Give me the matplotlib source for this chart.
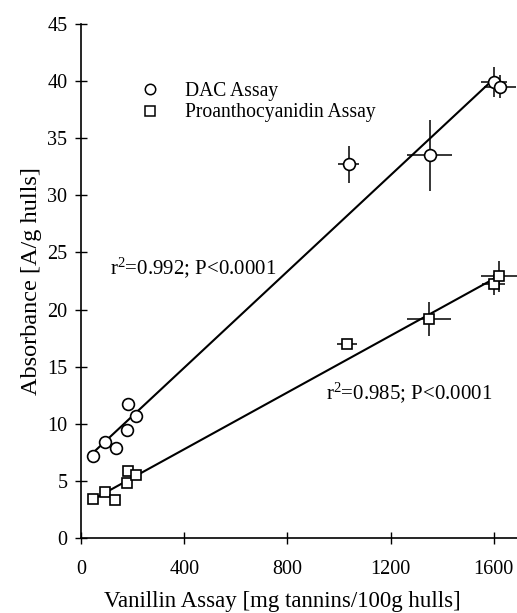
import matplotlib
matplotlib.use("Agg")
import matplotlib.pyplot as plt
import numpy as np

plt.rcParams['font.family'] = ['Liberation Serif', 'DejaVu Serif']
plt.rcParams['mathtext.fontset'] = 'custom'
plt.rcParams['mathtext.rm'] = 'Liberation Serif'
plt.rcParams['mathtext.it'] = 'Liberation Serif:italic'

# DAC assay (circles)
dac_x = [45, 93, 136, 177, 181, 212, 1038, 1351, 1601, 1623]
dac_y = [7.2, 8.4, 7.9, 9.5, 11.7, 10.7, 32.7, 33.5, 39.9, 39.5]
dac_xerr = [0, 0, 0, 0, 0, 0, 41, 86, 50, 62]
dac_yerr = [0, 0, 0, 0, 0, 0, 1.6, 3.1, 1.3, 1.0]

# Proanthocyanidin assay (squares)
pro_x = [45, 91, 132, 177, 181, 212, 1032, 1350, 1599, 1621]
pro_y = [3.4, 4.0, 3.3, 4.8, 5.9, 5.5, 17.0, 19.2, 22.2, 22.9]
pro_xerr = [0, 0, 0, 0, 0, 0, 39, 86, 45, 70]
pro_yerr = [0, 0, 0, 0, 0, 0, 0.45, 1.5, 0.9, 1.35]

xticks = [0, 400, 800, 1200, 1600]
yticks = list(range(0, 46, 5))

fig = plt.figure(figsize=(5.17, 6.13), dpi=100)
ax = fig.add_axes([0.157, 0.122, 0.843, 0.839])

# regression lines
for xs, ys in [(dac_x, dac_y), (pro_x, pro_y)]:
    k, b = np.polyfit(xs, ys, 1)
    xx = np.array([min(xs), max(xs) - 25])
    ax.plot(xx, k * xx + b, color='black', lw=1.5, zorder=2)

ax.errorbar(dac_x, dac_y, xerr=dac_xerr, yerr=dac_yerr, fmt='none',
            ecolor='black', elinewidth=1.1, zorder=1)
ax.errorbar(pro_x, pro_y, xerr=pro_xerr, yerr=pro_yerr, fmt='none',
            ecolor='black', elinewidth=1.1, zorder=1)
ax.plot(dac_x, dac_y, 'o', ms=8.5, mfc='white', mec='black', mew=1.2,
        zorder=3)
ax.plot(pro_x, pro_y, 's', ms=7.5, mfc='white', mec='black', mew=1.2,
        zorder=3)

ax.set_xlim(0, 1690)
ax.set_ylim(0, 45)
ax.set_xticks(xticks)
ax.set_yticks(yticks)
ax.tick_params(direction='inout', length=8, width=1, labelsize=14.5)
ax.tick_params(axis='x', pad=12)
ax.tick_params(axis='y', pad=6)
ax.spines['top'].set_visible(False)
ax.spines['right'].set_visible(False)
ax.spines['left'].set_linewidth(1.2)
ax.spines['bottom'].set_linewidth(1.2)

ax.set_xlabel('Vanillin Assay [mg tannins/100g hulls]', fontsize=16.5, labelpad=8)
ax.xaxis.label.set_x(0.461)
ax.set_ylabel('Absorbance [A/g hulls]', fontsize=17.5, labelpad=4)

# legend drawn by hand (rows sit close together)
ax.plot([0.158], [0.874], 'o', ms=7.5, mfc='white', mec='black', mew=1.1,
        transform=ax.transAxes, clip_on=False)
ax.plot([0.158], [0.831], 's', ms=6.5, mfc='white', mec='black', mew=1.1,
        transform=ax.transAxes, clip_on=False)
ax.text(0.239, 0.859, 'DAC Assay', fontsize=14.1, va='baseline',
        transform=ax.transAxes)
ax.text(0.239, 0.819, 'Proanthocyanidin Assay', fontsize=14.1, va='baseline',
        transform=ax.transAxes)

ax.text(113, 23.7, r'r$^2$=0.992; P<0.0001', fontsize=15, va='center')
ax.text(948, 12.7, r'r$^2$=0.985; P<0.0001', fontsize=15, va='center')

fig.savefig('out.png', dpi=100)
